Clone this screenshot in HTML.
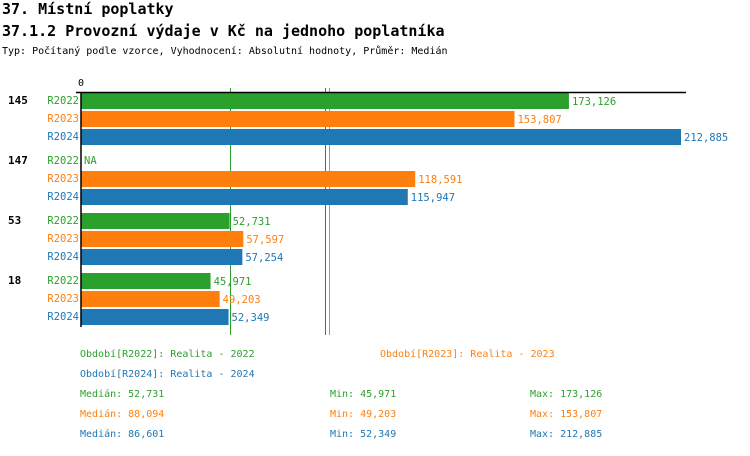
<!DOCTYPE html>
<html><head><meta charset="utf-8"><style>
body{margin:0;background:#fff;width:750px;height:452px;overflow:hidden;font-family:"DejaVu Sans Mono","Liberation Mono",monospace;}
svg text{font-family:"DejaVu Sans Mono","Liberation Mono",monospace;}
</style></head><body>
<svg width="750" height="452">
<text x="2" y="14" font-size="15" font-weight="bold">37. Místní poplatky</text>
<text x="2" y="36" font-size="15" font-weight="bold">37.1.2 Provozní výdaje v Kč na jednoho poplatníka</text>
<text x="2" y="54" font-size="10">Typ: Počítaný podle vzorce, Vyhodnocení: Absolutní hodnoty, Průměr: Medián</text>
<text x="78" y="86" font-size="10">0</text>
<g id="plot"></g>
<g font-size="10">
<text x="80" y="357" fill="#2ca02c">Období[R2022]: Realita - 2022</text>
<text x="380" y="357" fill="#ff7f0e">Období[R2023]: Realita - 2023</text>
<text x="80" y="377" fill="#1f77b4">Období[R2024]: Realita - 2024</text>
</g>
<g id="stats" font-size="10"></g>
</svg>
<script>
const groups=["145","147","53","18"];
const series=["R2022","R2023","R2024"];
const colors=["#2ca02c","#ff7f0e","#1f77b4"];
const r2022=[173126,null,52731,45971];
const r2023=[153807,118591,57597,49203];
const r2024=[212885,115947,57254,52349];
const medians=[52731,88094,86601];
const mins=[45971,49203,52349];
const maxs=[173126,153807,212885];
const vals=[r2022,r2023,r2024];
const NS="http://www.w3.org/2000/svg";
const x0=81, xMax=212885, xW=600;
const xs=v=>x0+v/xMax*xW;
const fmt=v=>v.toLocaleString('en-US');
const plot=document.getElementById('plot');
function mk(tag,attrs,txt){const e=document.createElementNS(NS,tag);for(const k in attrs)e.setAttribute(k,attrs[k]);if(txt!=null)e.textContent=txt;return e;}
medians.forEach((m,i)=>{const px=Math.round(xs(m))+0.5;const l=mk('line',{x1:px,x2:px,y1:88,y2:335,stroke:colors[i],'stroke-width':1});

plot.appendChild(l);});
groups.forEach((g,gi)=>{
 const gy=93+gi*60;
 const t=mk('text',{x:8,y:gy+11,'font-size':11,'font-weight':'bold'},g);
 
 plot.appendChild(t);
 series.forEach((s,si)=>{
  const y=gy+si*18, v=vals[si][gi];
  const lt=mk('text',{x:79,y:y+11,'font-size':10.5,fill:colors[si],'text-anchor':'end'},s);
  
  plot.appendChild(lt);
  if(v==null){const na=mk('text',{x:84,y:y+11,'font-size':10.5,fill:colors[si]},'NA');
   
   plot.appendChild(na);return;}
  const r=mk('rect',{x:x0,y:y,width:xs(v)-x0,height:16,fill:colors[si]});
  
  plot.appendChild(r);
  const vt=mk('text',{x:xs(v)+3,y:y+12,'font-size':10.5,fill:colors[si]},fmt(v));
  
  plot.appendChild(vt);
 });
});
const ax=mk('line',{x1:76,x2:686,y1:92.5,y2:92.5,stroke:'#000','stroke-width':1.5});

plot.appendChild(ax);
const ay=mk('line',{x1:81,x2:81,y1:92,y2:327,stroke:'#000','stroke-width':1.5});

plot.appendChild(ay);
const st=document.getElementById('stats');
series.forEach((s,i)=>{const y=397+i*20;
 [[80,'Medián: '+fmt(medians[i]),'median'],[330,'Min: '+fmt(mins[i]),'min'],[530,'Max: '+fmt(maxs[i]),'max']].forEach(([x,txt,n])=>{
  const t=mk('text',{x:x,y:y,fill:colors[i]},txt);
  
  st.appendChild(t);});
});
</script>
</body></html>
